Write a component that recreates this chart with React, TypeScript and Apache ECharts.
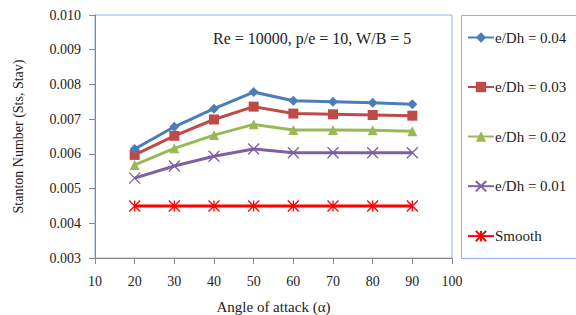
import React, { useEffect, useRef } from "react";
import * as echarts from "echarts";

const angles = [20, 30, 40, 50, 60, 70, 80, 90];
const seriesNames = ["e/Dh = 0.04", "e/Dh = 0.03", "e/Dh = 0.02", "e/Dh = 0.01", "Smooth"];
const st004 = [0.00614, 0.00678, 0.0073, 0.00778, 0.00753, 0.0075, 0.00747, 0.00743];
const st003 = [0.00597, 0.00652, 0.00699, 0.00736, 0.00716, 0.00714, 0.00712, 0.0071];
const st002 = [0.00568, 0.00616, 0.00654, 0.00685, 0.00669, 0.00669, 0.00668, 0.00665];
const st001 = [0.0053, 0.00565, 0.00593, 0.00614, 0.00603, 0.00603, 0.00603, 0.00603];
const stSmooth = [0.0045, 0.0045, 0.0045, 0.0045, 0.0045, 0.0045, 0.0045, 0.0045];
const yTicks = ["0.003", "0.004", "0.005", "0.006", "0.007", "0.008", "0.009", "0.010"];
const annotation = "Re = 10000, p/e = 10, W/B = 5";

const FONT = "'Liberation Serif', 'Times New Roman', serif";

export default function App() {
  const ref = useRef<HTMLDivElement>(null);
  useEffect(() => {
    if (!ref.current) return;
    const chart = echarts.init(ref.current, undefined, { renderer: "svg" });
    const values = [st004, st003, st002, st001, stSmooth];
    const colors = ["#4a7ebb", "#be4b48", "#98b954", "#7d60a0", "#ff0000"];
    const symbols = [
      "diamond",
      "rect",
      "triangle",
      "path://M0,0L10,10M10,0L0,10",
      "path://M5,0L5,10M0,0L10,10M10,0L0,10",
    ];
    const sizes = [10, 10, 10, 11, 11];
    const series = values.map((v, i) => ({
      name: seriesNames[i],
      type: "line",
      data: angles.map((a, j) => [a, v[j]]),
      symbol: symbols[i],
      symbolSize: sizes[i],
      showSymbol: true,
      lineStyle: { color: colors[i], width: 3 },
      itemStyle:
        i >= 3
          ? { color: "none", borderColor: colors[i], borderWidth: 1.3 }
          : { color: colors[i], borderColor: colors[i], borderWidth: 0 },
      z: 10 - i,
    }));
    chart.setOption({
      animation: false,
      textStyle: { fontFamily: FONT },
      grid: {
        left: 95,
        right: 124,
        top: 15,
        bottom: 57,
        containLabel: false,
        outerBoundsMode: "none",
        show: true,
        borderColor: "#8eb4e3",
        borderWidth: 1,
      },
      xAxis: {
        type: "value",
        min: 10,
        max: 100,
        interval: 10,
        name: "Angle of attack (α)",
        nameLocation: "middle",
        nameGap: 41,
        nameTextStyle: { fontFamily: FONT, fontSize: 15, color: "#222" },
        axisLine: { show: true, lineStyle: { color: "#888", width: 1 } },
        axisTick: { show: true, inside: false, length: 6, lineStyle: { color: "#888" } },
        axisLabel: { fontFamily: FONT, fontSize: 14, color: "#222", margin: 16 },
        splitLine: { show: false },
      },
      yAxis: {
        type: "value",
        min: 0.003,
        max: 0.01,
        interval: 0.001,
        name: "Stanton Number (Sts, Stav)",
        nameLocation: "middle",
        nameGap: 70,
        nameTextStyle: { fontFamily: FONT, fontSize: 14, color: "#222" },
        axisLine: { show: true, lineStyle: { color: "#888", width: 1 } },
        axisTick: { show: true, inside: false, length: 6, lineStyle: { color: "#888" } },
        axisLabel: {
          fontFamily: FONT,
          fontSize: 14,
          color: "#222",
          margin: 14,
          formatter: (val: number) => yTicks[Math.round((val - 0.003) / 0.001)] ?? "",
        },
        splitLine: { show: false },
      },
      legend: {
        orient: "vertical",
        left: 467,
        top: 30,
        padding: 0,
        itemGap: 34.5,
        itemWidth: 26,
        itemHeight: 13,
        textStyle: { fontFamily: FONT, fontSize: 15, color: "#222", padding: [0, 0, 0, -4] },
        data: seriesNames,
      },
      graphic: [
        {
          type: "rect",
          shape: { x: 461.5, y: 15.5, width: 130, height: 243 },
          style: { fill: "none", stroke: "#8eb4e3", lineWidth: 1 },
          silent: true,
        },
        {
          type: "text",
          x: 213,
          y: 38,
          style: {
            text: annotation,
            font: "16px 'Liberation Serif', serif",
            fill: "#222",
            textVerticalAlign: "middle",
          },
        },
      ],
      series,
    });
    return () => chart.dispose();
  }, []);
  return <div ref={ref} style={{ width: 576, height: 315, position: "absolute", left: 0, top: 0 }} />;
}
